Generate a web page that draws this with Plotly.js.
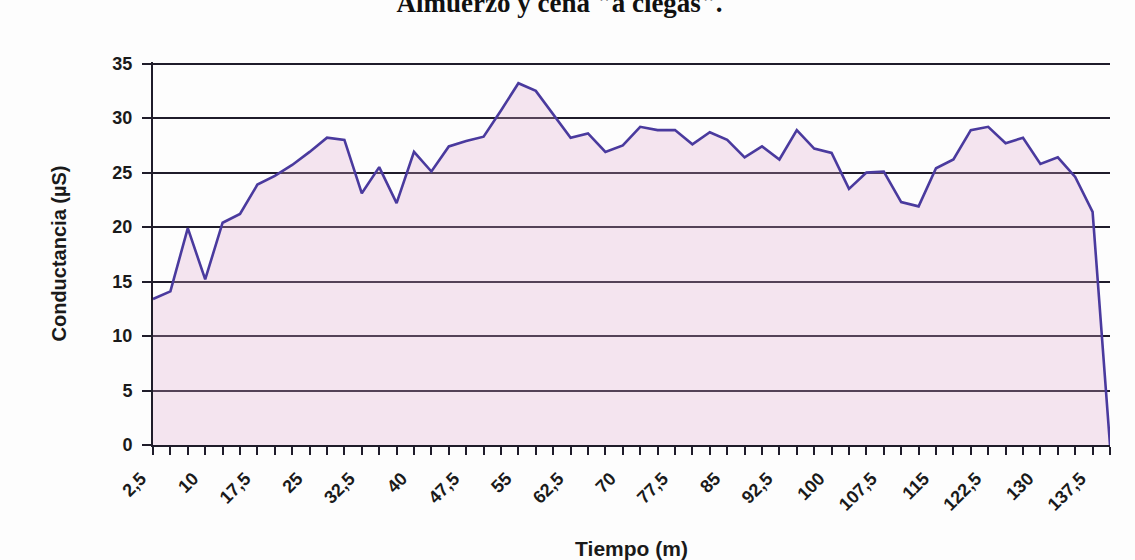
<!DOCTYPE html>
<html>
<head>
<meta charset="utf-8">
<script src="https://cdn.plot.ly/plotly-3.0.1.min.js"></script>
<style>html,body{margin:0;padding:0;background:#fdfdfd;}#chart{width:1135px;height:560px;}</style>
</head>
<body>
<div id="chart"></div>
<script>
const tiempo = [2.5,5,7.5,10,12.5,15,17.5,20,22.5,25,27.5,30,32.5,35,37.5,40,42.5,45,47.5,50,
  52.5,55,57.5,60,62.5,65,67.5,70,72.5,75,77.5,80,82.5,85,87.5,90,92.5,95,97.5,100,
  102.5,105,107.5,110,112.5,115,117.5,120,122.5,125,127.5,130,132.5,135,137.5,140];
const conductancia = [13.4,14.1,19.9,15.2,20.4,21.2,23.9,24.7,25.7,26.9,28.2,28.0,23.1,25.5,22.2,26.9,25.1,27.4,27.9,28.3,
  30.7,33.2,32.5,30.4,28.2,28.6,26.9,27.5,29.2,28.9,28.9,27.6,28.7,28.0,26.4,27.4,26.2,28.9,27.2,26.8,
  23.5,25.0,25.1,22.3,21.9,25.4,26.2,28.9,29.2,27.7,28.2,25.8,26.4,24.6,21.4,0];
const tickVals = [2.5,10,17.5,25,32.5,40,47.5,55,62.5,70,77.5,85,92.5,100,107.5,115,122.5,130,137.5];
const tickText = ['2,5','10','17,5','25','32,5','40','47,5','55','62,5','70','77,5','85','92,5','100','107,5','115','122,5','130','137,5'];
const titleText = 'Almuerzo y cena "a ciegas".';
const yTitle = 'Conductancia (µS)';
const xTitle = 'Tiempo (m)';

const dark = '#1f1c2a';
const tickFont = {family: 'Liberation Sans, Arial, sans-serif', size: 18, color: '#1a1a1a', weight: 'bold'};

Plotly.newPlot('chart', [{
  x: tiempo, y: conductancia, type: 'scatter', mode: 'lines',
  fill: 'tozeroy', fillcolor: 'rgba(222,165,205,0.28)',
  line: {color: '#4a3a9e', width: 2.6}, hoverinfo: 'x+y'
}], {
  width: 1135, height: 560,
  paper_bgcolor: '#fdfdfd', plot_bgcolor: 'rgba(0,0,0,0)',
  margin: {l: 153, r: 25, t: 62, b: 115},
  showlegend: false,
  title: {text: titleText, font: {family: 'Liberation Serif, Times New Roman, serif', size: 27, color: '#111', weight: 'bold'},
    x: 0.493, xref: 'container', xanchor: 'center', y: 0.995, yref: 'container', yanchor: 'middle'},
  xaxis: {
    range: [2.5, 140], tickmode: 'array', tickvals: tickVals, ticktext: tickText,
    tickangle: -45, tickfont: tickFont, ticks: 'outside', ticklen: 8, tickwidth: 2, tickcolor: dark,
    ticklabelshift: -12, ticklabelstandoff: 6,
    showline: true, linecolor: dark, linewidth: 2, showgrid: false, zeroline: false,
    minor: {tickmode: 'linear', tick0: 2.5, dtick: 2.5, ticks: 'outside', ticklen: 8, tickwidth: 2, tickcolor: dark, showgrid: false},
    title: {text: xTitle, font: {family: 'Liberation Sans, Arial, sans-serif', size: 21, color: '#1a1a1a', weight: 'bold'}, standoff: 30}
  },
  yaxis: {
    range: [0, 35.15], dtick: 5, tick0: 0, tickfont: tickFont,
    ticks: 'outside', ticklen: 9, tickwidth: 2, tickcolor: dark, ticklabelstandoff: 6,
    showline: true, linecolor: dark, linewidth: 2,
    showgrid: true, gridcolor: dark, gridwidth: 2, zeroline: false,
    title: {text: yTitle, font: {family: 'Liberation Sans, Arial, sans-serif', size: 20, color: '#1a1a1a', weight: 'bold'}, standoff: 40}
  }
}, {displayModeBar: false, staticPlot: true});
</script>
</body>
</html>
